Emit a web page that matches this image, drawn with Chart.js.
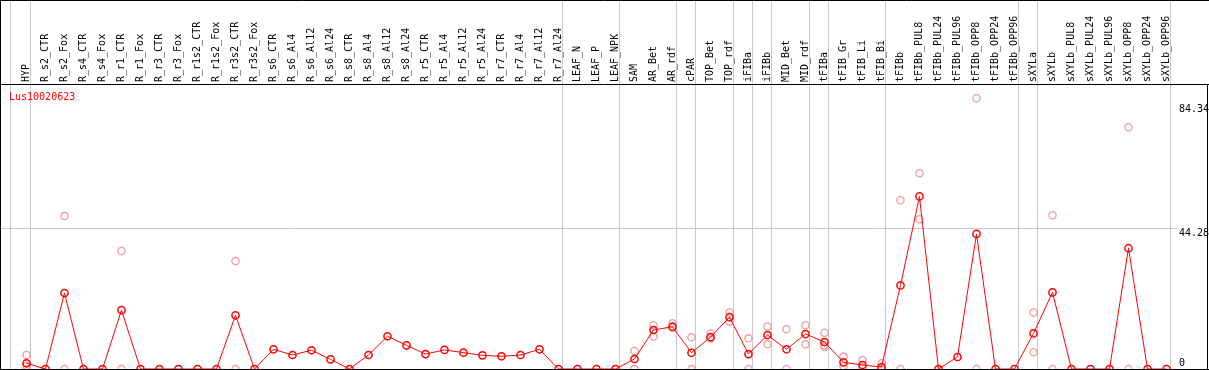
<!DOCTYPE html>
<html>
<head>
<meta charset="utf-8">
<script src="https://cdn.jsdelivr.net/npm/chart.js@4.4.1/dist/chart.umd.min.js"></script>
<style>
html,body{margin:0;padding:0;background:#fff;}
canvas{display:block;}
</style>
</head>
<body>
<canvas id="c" width="1209" height="370"></canvas>
<script>
const geneId = 'Lus10020623';
const categories = ['HYP','R_s2_CTR','R_s2_Fox','R_s4_CTR','R_s4_Fox','R_r1_CTR','R_r1_Fox','R_r3_CTR','R_r3_Fox','R_r1s2_CTR','R_r1s2_Fox','R_r3s2_CTR','R_r3s2_Fox','R_s6_CTR','R_s6_Al4','R_s6_Al12','R_s6_Al24','R_s8_CTR','R_s8_Al4','R_s8_Al12','R_s8_Al24','R_r5_CTR','R_r5_Al4','R_r5_Al12','R_r5_Al24','R_r7_CTR','R_r7_Al4','R_r7_Al12','R_r7_Al24','LEAF_N','LEAF_P','LEAF_NPK','SAM','AR_Bet','AR_rdf','cPAR','TOP_Bet','TOP_rdf','iFIBa','iFIBb','MID_Bet','MID_rdf','tFIBa','tFIB_Gr','tFIB_Li','tFIB_Bi','tFIBb','tFIBb_PUL8','tFIBb_PUL24','tFIBb_PUL96','tFIBb_OPP8','tFIBb_OPP24','tFIBb_OPP96','sXYLa','sXYLb','sXYLb_PUL8','sXYLb_PUL24','sXYLb_PUL96','sXYLb_OPP8','sXYLb_OPP24','sXYLb_OPP96'];
const meanValues = [1.8,0,23.9,0,0,18.5,0,0,0,0,0,16.9,0,6.2,4.4,5.9,3.05,0,4.4,10.3,7.45,4.7,6.0,5.15,4.3,4.0,4.4,6.2,0,0,0,0,3.15,12.27,13.3,5.1,10.0,16.3,4.7,10.7,6.2,11.0,8.5,2.1,1.26,0.63,26.3,54.3,0,3.78,42.5,0,0,11.2,24.1,0,0,0,38.0,0,0];
const rep1 = [4.4,null,48.1,null,null,37.1,null,null,null,null,null,34.0,null,null,null,null,null,null,null,null,null,null,null,null,null,null,null,null,null,null,null,null,5.7,13.8,14.4,10.0,11.2,17.8,9.65,13.4,12.5,13.8,11.4,3.9,2.8,1.8,53.1,61.6,null,null,85.2,null,null,17.8,48.4,null,null,null,76.05,null,null];
const rep2 = [1.0,null,0,null,null,0,null,null,null,null,null,0,null,null,null,null,null,null,null,null,null,null,null,null,null,null,null,null,null,null,null,null,0,10.2,13.0,0,9.6,14.9,0,7.8,0,7.8,7.45,0.9,0.4,0,0,47.1,null,null,0,null,null,5.25,0,null,null,null,0,null,null];
const rep3 = [0,null,null,null,null,null,null,null,null,null,null,null,null,null,null,null,null,null,null,null,null,null,null,null,null,null,null,null,null,null,null,null,null,null,null,null,null,null,null,null,null,null,7.0,null,null,null,null,null,null,null,null,null,null,null,null,null,null,null,null,null,null];
const yTickValues = [0, 44.28, 84.34];
const yMax = 89.66;
const groupEnds = [-1,0,28,31,34,35,37,38,39,41,42,45,52,53,60];

const meanPoints = meanValues.map((v,i)=>({x:i,y:v}));
const repPoints = [];
[rep1,rep2,rep3].forEach(arr=>arr.forEach((v,i)=>{ if(v!==null) repPoints.push({x:i,y:v}); }));

const mono = 'DejaVu Sans Mono';
const GRID = '#c8c8c8';

const framePlugin = {
  id:'frame',
  beforeDatasetsDraw(chart){
    const ctx = chart.ctx, xs = chart.scales.x;
    ctx.save();
    ctx.strokeStyle = GRID; ctx.lineWidth = 1;
    groupEnds.forEach(i=>{
      const px = Math.floor(xs.getPixelForValue(i < 0 ? i + 0.16 : i + 0.21)) + 0.5;
      ctx.beginPath(); ctx.moveTo(px,0); ctx.lineTo(px,369); ctx.stroke();
    });
    ctx.restore();
  },
  afterDraw(chart){
    const ctx = chart.ctx, W = chart.width;
    ctx.save();
    ctx.strokeStyle = '#000'; ctx.lineWidth = 1;
    ctx.beginPath();
    ctx.moveTo(0,0.5); ctx.lineTo(W,0.5);
    ctx.moveTo(0,84.5); ctx.lineTo(W,84.5);
    ctx.moveTo(0,369.5); ctx.lineTo(W,369.5);
    ctx.moveTo(0.5,0); ctx.lineTo(0.5,370);
    ctx.moveTo(1207.5,84.5); ctx.lineTo(1207.5,370);
    ctx.stroke();
    ctx.fillStyle = '#ff0000';
    ctx.font = '10px "' + mono + '"';
    ctx.textBaseline = 'alphabetic';
    ctx.fillText(geneId, 9, 100);
    ctx.restore();
  }
};

const yLH = [1.1, 1.1, 1.6];

new Chart(document.getElementById('c'), {
  type:'line',
  data:{
    datasets:[
      {data:meanPoints, order:0, borderColor:'#ff0000', borderWidth:1, tension:0,
       pointRadius:3.6, pointBorderWidth:1.5, pointBorderColor:'#ff0000', pointBackgroundColor:'rgba(0,0,0,0)', clip:false},
      {data:repPoints, order:1, showLine:false, borderColor:'#ee9a9a',
       pointRadius:3.6, pointBorderWidth:1.3, pointBorderColor:'#ee9a9a', pointBackgroundColor:'rgba(0,0,0,0)', clip:false}
    ]
  },
  options:{
    responsive:false, animation:false, devicePixelRatio:1,
    layout:{autoPadding:false, padding:{left:1,right:0,top:0,bottom:1}},
    plugins:{legend:{display:false}, tooltip:{enabled:false}},
    scales:{
      x:{
        type:'linear', position:'top', min:-1.342, max:60.237,
        afterBuildTicks:s=>{ s.ticks = categories.map((_,i)=>({value:i})); },
        afterFit:s=>{ s.height = 84; s.paddingLeft = 0; s.paddingRight = 0; s.paddingTop = 0; s.paddingBottom = 0; },
        ticks:{autoSkip:false, minRotation:90, maxRotation:90, padding:2, color:'#000', labelOffset:12,
               font:{family:mono, size:10, lineHeight:1.2},
               callback:v=>categories[v] ?? ''},
        grid:{display:false, drawTicks:false},
        border:{display:false}
      },
      y:{
        type:'linear', position:'right', min:0, max:yMax,
        afterBuildTicks:s=>{ s.ticks = yTickValues.map(v=>({value:v})); },
        afterFit:s=>{ s.width = 38; s.paddingTop = 0; s.paddingBottom = 0; s.paddingLeft = 0; s.paddingRight = 0; },
        ticks:{padding:2, color:'#000',
               font:c=>({family:mono, size:10, lineHeight:yLH[c.index] || 1.2}),
               callback:(v,i)=>{ const t = String(v); return i===0 ? [t,''] : ['',t]; }},
        grid:{color:c=> (c.tick && c.tick.value===44.28) ? GRID : 'rgba(0,0,0,0)', tickLength:6, drawTicks:true, lineWidth:1},
        border:{display:false}
      }
    }
  },
  plugins:[framePlugin]
});
</script>
</body>
</html>
